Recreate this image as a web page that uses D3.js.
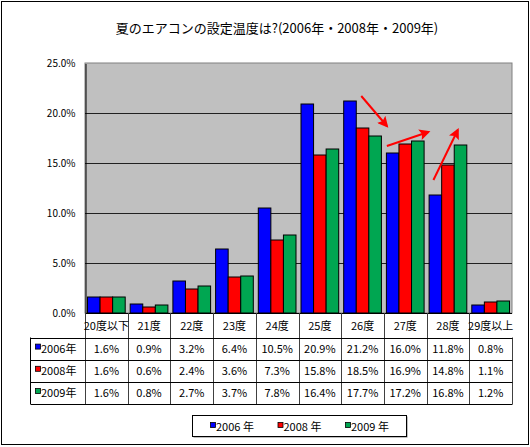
<html>
<head>
<meta charset="utf-8">
<title>夏のエアコンの設定温度</title>
<script src="https://d3js.org/d3.v7.min.js"></script>
<style>
  body { margin: 0; background: #fff; }
  text { font-family: "MS PGothic", "Noto Sans CJK JP", sans-serif; fill: #000; }
</style>
</head>
<body>
<svg width="530" height="447"></svg>
<script>
// data
var categories = ["20度以下", "21度", "22度", "23度", "24度", "25度", "26度", "27度", "28度", "29度以上"];
var years = ["2006年", "2008年", "2009年"];
var legendLabels = ["2006 年", "2008 年", "2009 年"];
var values2006 = [1.6, 0.9, 3.2, 6.4, 10.5, 20.9, 21.2, 16.0, 11.8, 0.8];
var values2008 = [1.6, 0.6, 2.4, 3.6, 7.3, 15.8, 18.5, 16.9, 14.8, 1.1];
var values2009 = [1.6, 0.8, 2.7, 3.7, 7.8, 16.4, 17.7, 17.2, 16.8, 1.2];
var yTicks = [0, 5, 10, 15, 20, 25];
// annotation arrows: [category position, value] start -> end
var arrowStarts = [[6.47, 21.7], [7.07, 16.7], [8.16, 13.3]];
var arrowEnds   = [[7.07, 18.7], [8.04, 18.1], [8.73, 18.3]];

var colors = ["#0000ff", "#ff0000", "#00a651"];
var series = [values2006, values2008, values2009];

var svg = d3.select("svg");
var plotLeft = 85, plotRight = 512, plotTop = 63, plotBottom = 313;

// outer frame
svg.append("rect")
  .attr("x", 1.5).attr("y", 1.5)
  .attr("width", 527).attr("height", 443)
  .attr("fill", "#fff").attr("stroke", "#000");

svg.append("text")
  .attr("x", 277).attr("y", 33)
  .attr("text-anchor", "middle")
  .style("font-size", "13px")
  .text("夏のエアコンの設定温度は?(2006年・2008年・2009年)");

var xScale = d3.scaleBand()
  .domain(categories)
  .range([plotLeft, plotRight])
  .paddingInner(0.117)
  .paddingOuter(0.0585);

var xCell = d3.scaleBand().domain(categories).range([plotLeft, plotRight]);

var xSub = d3.scaleBand()
  .domain(years)
  .range([0, xScale.bandwidth()]);

var yScale = d3.scaleLinear().domain([0, 25]).range([plotBottom, plotTop]);

var xPos = d3.scaleLinear().domain([0, categories.length]).range([plotLeft, plotRight]);

// plot area
svg.append("rect")
  .attr("x", plotLeft).attr("y", plotTop)
  .attr("width", plotRight - plotLeft).attr("height", plotBottom - plotTop)
  .attr("fill", "#c0c0c0").attr("stroke", "#808080");

svg.append("g").selectAll("line")
  .data(yTicks.slice(1, -1))
  .enter().append("line")
  .attr("x1", plotLeft).attr("x2", plotRight)
  .attr("y1", function(d) { return yScale(d) + 0.5; })
  .attr("y2", function(d) { return yScale(d) + 0.5; })
  .attr("stroke", "#202020");

var yAxis = svg.append("g")
  .attr("transform", "translate(" + (plotLeft + 0.5) + ",0.5)")
  .call(d3.axisLeft(yScale).tickValues(yTicks).tickSize(0).tickPadding(10)
    .tickFormat(function(d) { return d.toFixed(1) + "%"; }));
yAxis.select(".domain").attr("stroke", "#000");
yAxis.selectAll("text").style("font-size", "10px")
  .style("font-family", "\"MS PGothic\", \"Noto Sans CJK JP\", sans-serif");

// bars
var groups = svg.append("g").selectAll("g")
  .data(categories)
  .enter().append("g")
  .attr("transform", function(d) { return "translate(" + xScale(d) + ",0)"; });

groups.selectAll("rect")
  .data(function(d, i) { return series.map(function(s, j) { return { year: years[j], value: s[i], c: colors[j] }; }); })
  .enter().append("rect")
  .attr("x", function(d) { return xSub(d.year); })
  .attr("y", function(d) { return yScale(d.value); })
  .attr("width", xSub.bandwidth())
  .attr("height", function(d) { return plotBottom - yScale(d.value); })
  .attr("fill", function(d) { return d.c; })
  .attr("stroke", "#000")
  .attr("stroke-width", 1);

svg.append("line")
  .attr("x1", plotLeft).attr("x2", plotRight)
  .attr("y1", plotBottom + 0.5).attr("y2", plotBottom + 0.5)
  .attr("stroke", "#000");

// arrows
svg.append("defs").append("marker")
  .attr("id", "head")
  .attr("viewBox", "0 0 10 10")
  .attr("refX", 8).attr("refY", 5)
  .attr("markerWidth", 6.5).attr("markerHeight", 5.5)
  .attr("markerUnits", "strokeWidth")
  .attr("orient", "auto")
  .append("path").attr("d", "M0,0 L10,5 L0,10 L2,5 Z").attr("fill", "#ff0000");

svg.append("g").selectAll("line")
  .data(arrowStarts)
  .enter().append("line")
  .attr("x1", function(d) { return xPos(d[0]); })
  .attr("y1", function(d) { return yScale(d[1]); })
  .attr("x2", function(d, i) { return xPos(arrowEnds[i][0]); })
  .attr("y2", function(d, i) { return yScale(arrowEnds[i][1]); })
  .attr("stroke", "#ff0000")
  .attr("stroke-width", 2)
  .attr("marker-end", "url(#head)");

// data table
var rowTop = 337.5, rowH = 22.2, tableLeft = 30.5;
var tbl = svg.append("g");

tbl.selectAll(".vline")
  .data(d3.range(categories.length + 1))
  .enter().append("line")
  .attr("x1", function(i) { return Math.round(xPos(i)) + 0.5; })
  .attr("x2", function(i) { return Math.round(xPos(i)) + 0.5; })
  .attr("y1", function(i) { return i === categories.length ? rowTop : plotBottom; })
  .attr("y2", rowTop + rowH * 3)
  .attr("stroke", "#404040");

tbl.selectAll(".hline")
  .data(d3.range(4))
  .enter().append("line")
  .attr("x1", tableLeft).attr("x2", plotRight + 0.5)
  .attr("y1", function(i) { return Math.round(rowTop + i * rowH) + 0.5; })
  .attr("y2", function(i) { return Math.round(rowTop + i * rowH) + 0.5; })
  .attr("stroke", "#000");

tbl.append("line")
  .attr("x1", tableLeft).attr("x2", tableLeft)
  .attr("y1", rowTop).attr("y2", rowTop + rowH * 3)
  .attr("stroke", "#000");

tbl.selectAll(".head")
  .data(categories)
  .enter().append("text")
  .attr("x", function(d) { return xCell(d) + xCell.bandwidth() / 2; })
  .attr("y", 330)
  .attr("text-anchor", "middle")
  .style("font-size", "11px")
  .text(function(d) { return d; });

years.forEach(function(y, j) {
  var cy = rowTop + rowH * j + rowH / 2;
  tbl.append("rect")
    .attr("x", 35.5).attr("y", cy - 4.5)
    .attr("width", 5).attr("height", 5)
    .attr("fill", colors[j]).attr("stroke", "#000").attr("stroke-width", 0.8);
  tbl.append("text")
    .attr("x", 41).attr("y", cy + 4)
    .style("font-size", "11px")
    .text(y);
  tbl.selectAll(".v" + j)
    .data(series[j])
    .enter().append("text")
    .attr("x", function(d, i) { return xCell(categories[i]) + xCell.bandwidth() / 2; })
    .attr("y", cy + 4)
    .attr("text-anchor", "middle")
    .style("font-size", "11px")
    .text(function(d) { return d.toFixed(1) + "%"; });
});

// legend
var lg = svg.append("g");
lg.append("rect")
  .attr("x", 193.5).attr("y", 416.5)
  .attr("width", 214).attr("height", 21)
  .attr("fill", "#808080");
lg.append("rect")
  .attr("x", 192.5).attr("y", 415.5)
  .attr("width", 214).attr("height", 21)
  .attr("fill", "#fff").attr("stroke", "#000");

var lx = d3.scalePoint().domain(legendLabels).range([210, 345]);
legendLabels.forEach(function(l, j) {
  lg.append("rect")
    .attr("x", lx(l) + 0.5).attr("y", 422.5)
    .attr("width", 5).attr("height", 5)
    .attr("fill", colors[j]).attr("stroke", "#000").attr("stroke-width", 0.8);
  lg.append("text")
    .attr("x", lx(l) + 6).attr("y", 431)
    .style("font-size", "11px")
    .text(l);
});
</script>
</body>
</html>
